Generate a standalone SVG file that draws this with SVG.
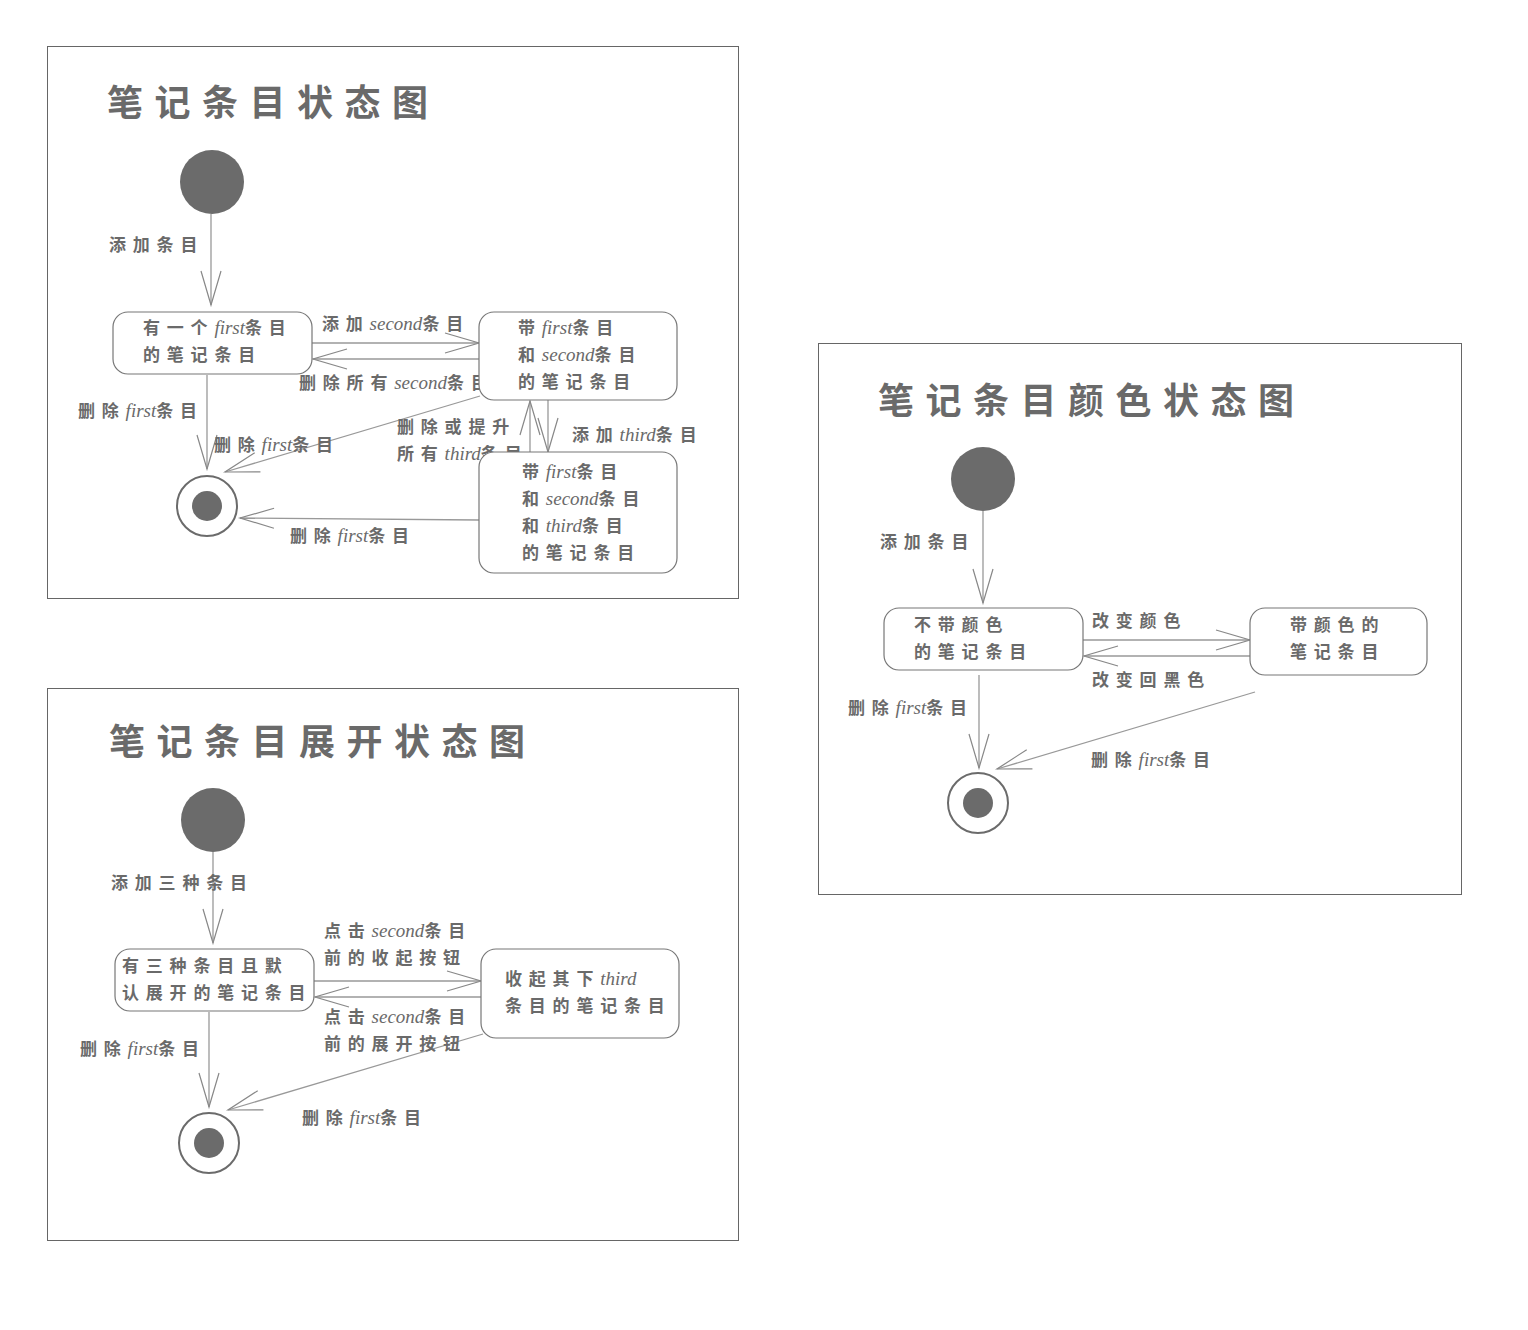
<svg xmlns="http://www.w3.org/2000/svg" width="1528" height="1330" viewBox="0 0 1528 1330">
<style>
.frame{fill:#fff;stroke:#666;stroke-width:1}
.node{fill:#fff;stroke:#777;stroke-width:1.2}
.init{fill:#6b6b6b}
.endo{fill:#fff;stroke:#6b6b6b;stroke-width:2}
.endi{fill:#6b6b6b}
.title{font-family:"Noto Sans CJK SC",sans-serif;font-size:36px;font-weight:700;fill:#6a6a6a;letter-spacing:11.5px}
.t{font-family:"Noto Sans CJK SC",sans-serif;font-size:17px;font-weight:700;fill:#6a6a6a;letter-spacing:6.8px}
.l{font-family:"Liberation Serif",serif;font-style:italic;font-weight:400;font-size:19px;letter-spacing:0}
.c{stroke:#999;stroke-width:1.3;fill:none}
</style>
<defs>
<marker id="ah" markerUnits="userSpaceOnUse" viewBox="-36 -12 40 24" refX="0" refY="0" markerWidth="40" markerHeight="24" orient="auto">
<path d="M-34,-10 L0,0 L-34,10" fill="none" stroke="#888" stroke-width="1.2"/>
</marker>
</defs>
<rect width="1528" height="1330" fill="#fff"/>

<g id="diagram1">
<rect class="frame" x="47.5" y="46.5" width="691" height="552"/>
<text class="title" x="107" y="116">笔记条目状态图</text>
</g>
<g id="diagram2">
<rect class="frame" x="47.5" y="688.5" width="691" height="552"/>
<text class="title" x="109" y="755">笔记条目展开状态图</text>
</g>
<g id="diagram3">
<rect class="frame" x="818.5" y="343.5" width="643" height="551"/>
<text class="title" x="878" y="414">笔记条目颜色状态图</text>
</g>

<g id="connectors">
<!-- diagram 1 -->
<line class="c" x1="211" y1="214" x2="211" y2="305" marker-end="url(#ah)"/>
<line class="c" x1="312" y1="343" x2="479" y2="343" marker-end="url(#ah)"/>
<line class="c" x1="479" y1="359" x2="313" y2="359" marker-end="url(#ah)"/>
<line class="c" x1="207" y1="375" x2="207" y2="469" marker-end="url(#ah)"/>
<line class="c" x1="480" y1="396" x2="225" y2="472" marker-end="url(#ah)"/>
<line class="c" x1="548" y1="400" x2="548" y2="452" marker-end="url(#ah)"/>
<line class="c" x1="530" y1="452" x2="530" y2="401" marker-end="url(#ah)"/>
<line class="c" x1="479" y1="520" x2="240" y2="518" marker-end="url(#ah)"/>
<!-- diagram 2 -->
<line class="c" x1="213" y1="852" x2="213" y2="943" marker-end="url(#ah)"/>
<line class="c" x1="314" y1="981" x2="481" y2="981" marker-end="url(#ah)"/>
<line class="c" x1="481" y1="997" x2="315" y2="997" marker-end="url(#ah)"/>
<line class="c" x1="209" y1="1012" x2="209" y2="1107" marker-end="url(#ah)"/>
<line class="c" x1="483" y1="1034" x2="228" y2="1110" marker-end="url(#ah)"/>
<!-- diagram 3 -->
<line class="c" x1="983" y1="511" x2="983" y2="603" marker-end="url(#ah)"/>
<line class="c" x1="1083" y1="640" x2="1250" y2="640" marker-end="url(#ah)"/>
<line class="c" x1="1250" y1="656" x2="1084" y2="656" marker-end="url(#ah)"/>
<line class="c" x1="979" y1="675" x2="979" y2="768" marker-end="url(#ah)"/>
<line class="c" x1="1255" y1="692" x2="997" y2="769" marker-end="url(#ah)"/>
</g>

<g id="labels">
<text class="t" x="109" y="251">添加条目</text>
<text class="t" x="322" y="330">添加<tspan class="l">second</tspan>条目</text>
<text class="t" x="299" y="389">删除所有<tspan class="l">second</tspan>条目</text>
<text class="t" x="78" y="417">删除<tspan class="l">first</tspan>条目</text>
<text class="t" x="214" y="451">删除<tspan class="l">first</tspan>条目</text>
<text class="t" x="572" y="441">添加<tspan class="l">third</tspan>条目</text>
<text class="t" x="397" y="433">删除或提升</text>
<text class="t" x="397" y="460">所有<tspan class="l">third</tspan>条目</text>
<text class="t" x="290" y="542">删除<tspan class="l">first</tspan>条目</text>

<text class="t" x="111" y="889">添加三种条目</text>
<text class="t" x="324" y="937">点击<tspan class="l">second</tspan>条目</text>
<text class="t" x="324" y="964">前的收起按钮</text>
<text class="t" x="324" y="1023">点击<tspan class="l">second</tspan>条目</text>
<text class="t" x="324" y="1050">前的展开按钮</text>
<text class="t" x="80" y="1055">删除<tspan class="l">first</tspan>条目</text>
<text class="t" x="302" y="1124">删除<tspan class="l">first</tspan>条目</text>

<text class="t" x="880" y="548">添加条目</text>
<text class="t" x="1092" y="627">改变颜色</text>
<text class="t" x="1092" y="686">改变回黑色</text>
<text class="t" x="848" y="714">删除<tspan class="l">first</tspan>条目</text>
<text class="t" x="1091" y="766">删除<tspan class="l">first</tspan>条目</text>
</g>

<!-- diagram 1 nodes -->
<g id="init1"><circle class="init" cx="212" cy="182" r="32"/></g>
<g id="n1a">
<rect class="node" x="113" y="312" width="199" height="62" rx="15"/>
<text class="t" x="143" y="334">有一个<tspan class="l">first</tspan>条目</text>
<text class="t" x="143" y="361">的笔记条目</text>
</g>
<g id="n1b">
<rect class="node" x="479" y="312" width="198" height="88" rx="15"/>
<text class="t" x="518" y="334">带<tspan class="l">first</tspan>条目</text>
<text class="t" x="518" y="361">和<tspan class="l">second</tspan>条目</text>
<text class="t" x="518" y="388">的笔记条目</text>
</g>
<g id="n1c">
<rect class="node" x="479" y="452" width="198" height="121" rx="15"/>
<text class="t" x="522" y="478">带<tspan class="l">first</tspan>条目</text>
<text class="t" x="522" y="505">和<tspan class="l">second</tspan>条目</text>
<text class="t" x="522" y="532">和<tspan class="l">third</tspan>条目</text>
<text class="t" x="522" y="559">的笔记条目</text>
</g>
<g id="end1"><circle class="endo" cx="207" cy="506" r="30"/><circle class="endi" cx="207" cy="506" r="15"/></g>

<!-- diagram 2 nodes -->
<g id="init2"><circle class="init" cx="213" cy="820" r="32"/></g>
<g id="n2a">
<rect class="node" x="115" y="949" width="199" height="62" rx="15"/>
<text class="t" x="122" y="972">有三种条目且默</text>
<text class="t" x="122" y="999">认展开的笔记条目</text>
</g>
<g id="n2b">
<rect class="node" x="481" y="949" width="198" height="89" rx="15"/>
<text class="t" x="505" y="985">收起其下<tspan class="l">third</tspan></text>
<text class="t" x="505" y="1012">条目的笔记条目</text>
</g>
<g id="end2"><circle class="endo" cx="209" cy="1143" r="30"/><circle class="endi" cx="209" cy="1143" r="15"/></g>

<!-- diagram 3 nodes -->
<g id="init3"><circle class="init" cx="983" cy="479" r="32"/></g>
<g id="n3a">
<rect class="node" x="884" y="608" width="199" height="62" rx="15"/>
<text class="t" x="914" y="631">不带颜色</text>
<text class="t" x="914" y="658">的笔记条目</text>
</g>
<g id="n3b">
<rect class="node" x="1250" y="608" width="177" height="67" rx="15"/>
<text class="t" x="1290" y="631">带颜色的</text>
<text class="t" x="1290" y="658">笔记条目</text>
</g>
<g id="end3"><circle class="endo" cx="978" cy="803" r="30"/><circle class="endi" cx="978" cy="803" r="15"/></g>
</svg>
